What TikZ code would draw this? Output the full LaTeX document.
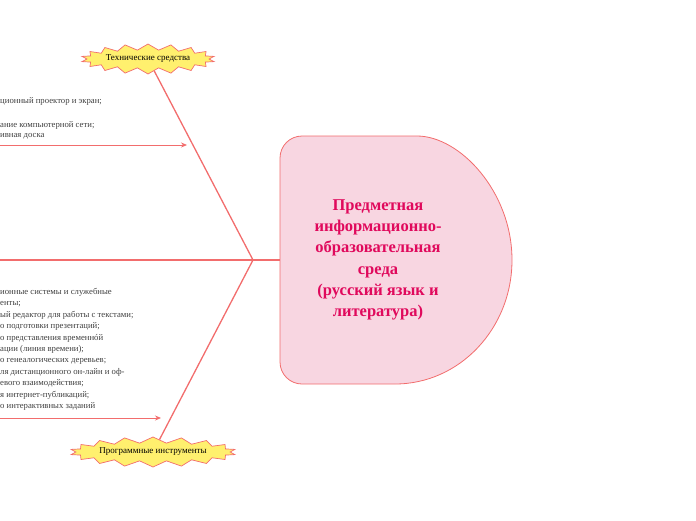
\documentclass[tikz,border=0pt]{standalone}
\usepackage{fontspec}
\setmainfont{Liberation Serif}
\usetikzlibrary{shapes.symbols,arrows.meta}
\definecolor{ln}{HTML}{F26D6D}
\definecolor{pk}{HTML}{F8D6E1}
\definecolor{tx}{HTML}{E0095C}
\definecolor{st}{HTML}{FFF06E}
\tikzset{
 starlbl/.style={starburst,starburst points=18,starburst point height=6pt,random starburst=0,draw=ln,fill=st,line width=0.7pt,font=\fontsize{9}{10}\selectfont,inner sep=1pt,minimum width=120pt,minimum height=30pt},
 item/.style={anchor=west,inner sep=0pt,font=\fontsize{8.7}{11.4}\selectfont,text=black!75,align=left},
 branch/.style={draw=ln,line width=1.3pt},
 thin/.style={draw=ln,line width=0.8pt,-{Stealth[length=6pt,width=5pt]}}
}
\begin{document}
\begin{tikzpicture}[x=1pt,y=-1pt]
\useasboundingbox (0,0) rectangle (696,520);
\coordinate (hub) at (253,260);
\coordinate (l0) at (0,260);
\path[draw=ln,fill=pk,line width=0.8pt] (395,136) arc[start angle=-90,end angle=90,x radius=117,y radius=124] [rounded corners=22] -- (280,384) -- (280,136) -- cycle;
\node[font=\bfseries\fontsize{16.5}{21.3}\selectfont,text=tx,align=center] (main) at (378,260) {Предметная\\информационно-\\образовательная\\среда\\(русский язык и\\литература)};
\coordinate (mainL) at (280,260);
\draw[branch] (l0) -- (hub) -- (mainL);
\node[starlbl] (t1) at (148,59) {Технические средства};
\node[starlbl,minimum width=150pt] (t2) at (153,452) {Программные инструменты};
\draw[branch] (hub) -- (t1);
\draw[branch] (hub) -- (t2);
\coordinate (a1s) at (0,145); \coordinate (a1e) at (187,145);
\coordinate (a2s) at (0,418); \coordinate (a2e) at (161,418);
\draw[thin] (a1s) -- (a1e);
\draw[thin] (a2s) -- (a2e);
\node[item] (i1) at (0,101) {ционный проектор и экран;};
\node[item] (i2) at (0,125) {ание компьютерной сети;};
\node[item] (i3) at (0,136) {ивная доска};
\node[item,anchor=north west] (p) at (0,288) {ионные системы и служебные\\енты;\\ый редактор для работы с текстами;\\о подготовки презентаций;\\о представления временнóй\\ации (линия времени);\\о генеалогических деревьев;\\ля дистанционного он-лайн и оф-\\евого взаимодействия;\\я интернет-публикаций;\\о интерактивных заданий};
\end{tikzpicture}
\end{document}
